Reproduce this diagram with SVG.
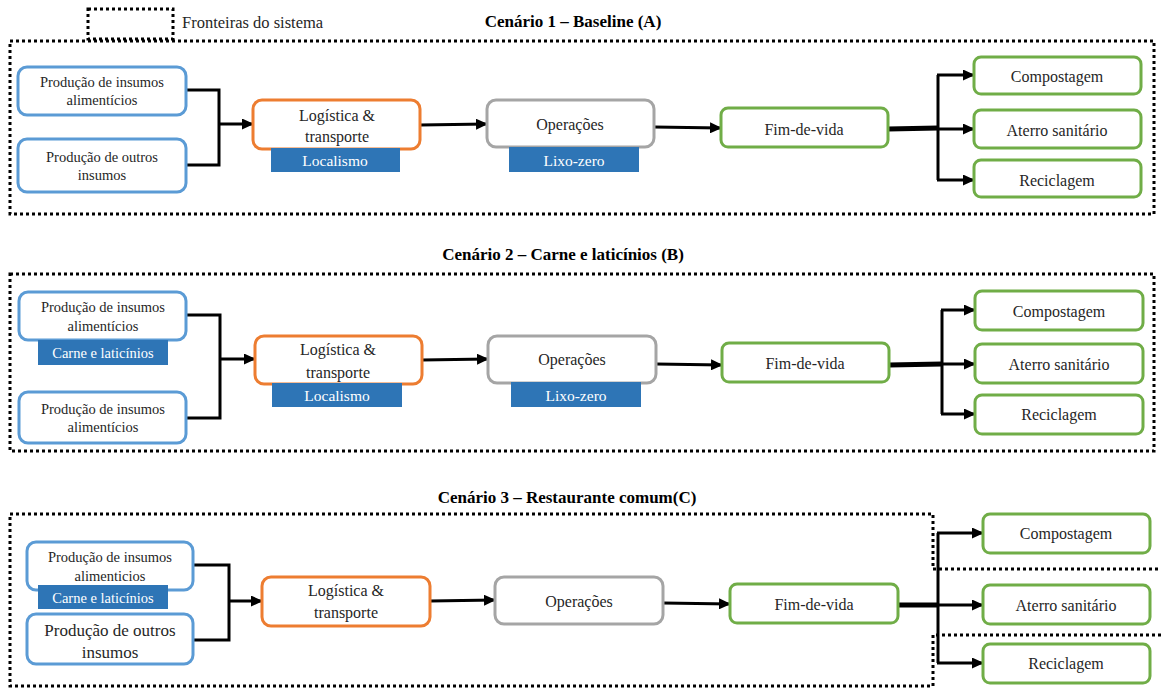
<svg xmlns="http://www.w3.org/2000/svg" width="1161" height="689" viewBox="0 0 1161 689">
<defs>
<marker id="ah" markerWidth="12" markerHeight="11" refX="11" refY="5.5" orient="auto" markerUnits="userSpaceOnUse"><path d="M0,0 L12,5.5 L0,11 z" fill="#000"/></marker>
<style>
.bnd{fill:none;stroke:#000;stroke-width:3;stroke-dasharray:3 3}
.box{fill:#fff;stroke-width:3}
.blue{stroke:#5B9BD5}
.orange{stroke:#ED7D31}
.gray{stroke:#A5A5A5}
.green{stroke:#70AD47}
.bar{fill:#2E75B6}
text{font-family:"Liberation Serif","Times New Roman",serif;fill:#262626;text-anchor:middle}
.t14{font-size:14.5px}
.t16{font-size:16px}
.t17{font-size:17px}
.bt{fill:#fff;font-size:15.5px}
.bt14{fill:#fff;font-size:14.5px}
.title{font-size:17px;font-weight:bold;fill:#000}
.leg{font-size:16.5px;text-anchor:start}
.c{fill:none;stroke:#000;stroke-width:3}
.ca{fill:none;stroke:#000;stroke-width:3;marker-end:url(#ah)}
.thick{fill:none;stroke:#000;stroke-width:5}
</style>
</defs>

<g id="legend">
<rect class="bnd" x="88" y="9" width="85" height="30"/>
<text class="leg" x="182" y="28">Fronteiras  do sistema</text>
</g>

<g id="titles">
<text class="title" x="573" y="27">Cenário 1 – Baseline (A)</text>
<text class="title" x="563" y="260">Cenário 2 – Carne e laticínios (B)</text>
<text class="title" x="567" y="503">Cenário 3 – Restaurante comum(C)</text>
</g>

<g id="boundaries">
<rect class="bnd" x="10" y="41" width="1144" height="173"/>
<rect class="bnd" x="10" y="274" width="1144" height="177"/>
<path class="bnd" d="M10,514 H933 V569 H1161 M1161,635 H933 V686 H10 V514"/>
</g>

<g id="connectors">
<!-- Scenario 1 -->
<path class="c" d="M186,90 H219 V165 H186"/>
<path class="ca" d="M219,124 H253"/>
<path class="ca" d="M420,125 L487,124"/>
<path class="ca" d="M654,127 L721,128"/>
<path class="thick" d="M888,129 L938,128"/>
<path class="c" d="M938,75 V180"/>
<path class="ca" d="M937,75 H974"/>
<path class="ca" d="M938,129 H974"/>
<path class="ca" d="M937,180 H974"/>
<!-- Scenario 2 -->
<path class="c" d="M186,315 H220 V418 H186"/>
<path class="ca" d="M220,359 H255"/>
<path class="ca" d="M422,360 L488,359"/>
<path class="ca" d="M656,364 L722,365"/>
<path class="thick" d="M889,365 L942,364"/>
<path class="c" d="M942,310 V414"/>
<path class="ca" d="M941,310 H975"/>
<path class="ca" d="M942,364 H975"/>
<path class="ca" d="M941,414 H975"/>
<!-- Scenario 3 -->
<path class="c" d="M193,565 H229 V640 H193"/>
<path class="ca" d="M229,601 H262"/>
<path class="ca" d="M430,601 L495,600"/>
<path class="ca" d="M663,603 L730,604"/>
<path class="thick" d="M898,605 L938,605"/>
<path class="c" d="M938,533 V663"/>
<path class="ca" d="M937,533 H983"/>
<path class="ca" d="M938,605 H983"/>
<path class="ca" d="M937,663 H983"/>
</g>

<!-- Scenario 1 nodes -->
<g id="s1-prod-alim">
<rect class="box blue" x="18" y="67" width="168" height="48" rx="9"/>
<text class="t14" x="102" y="87">Produção de insumos</text>
<text class="t14" x="102" y="105">alimentícios</text>
</g>
<g id="s1-prod-outros">
<rect class="box blue" x="18" y="139" width="168" height="53" rx="9"/>
<text class="t14" x="102" y="162">Produção de outros</text>
<text class="t14" x="102" y="180">insumos</text>
</g>
<g id="s1-logistica">
<rect class="box orange" x="253" y="100" width="167" height="49" rx="9"/>
<text class="t16" x="337" y="121">Logística  &amp;</text>
<text class="t16" x="337" y="142">transporte</text>
<rect class="bar" x="271" y="148" width="129" height="24"/>
<text class="bt" x="335" y="166">Localismo</text>
</g>
<g id="s1-operacoes">
<rect class="box gray" x="487" y="100" width="167" height="47" rx="9"/>
<text class="t16" x="570" y="130">Operações</text>
<rect class="bar" x="509" y="147" width="130" height="25"/>
<text class="bt" x="574" y="166">Lixo-zero</text>
</g>
<g id="s1-fim">
<rect class="box green" x="721" y="108" width="167" height="39" rx="7"/>
<text class="t16" x="804" y="135">Fim-de-vida</text>
</g>
<g id="s1-compostagem">
<rect class="box green" x="974" y="57" width="167" height="37" rx="7"/>
<text class="t16" x="1057" y="82">Compostagem</text>
</g>
<g id="s1-aterro">
<rect class="box green" x="974" y="110" width="167" height="38" rx="7"/>
<text class="t16" x="1057" y="136">Aterro  sanitário</text>
</g>
<g id="s1-reciclagem">
<rect class="box green" x="974" y="160" width="167" height="37" rx="7"/>
<text class="t16" x="1057" y="186">Reciclagem</text>
</g>

<!-- Scenario 2 nodes -->
<g id="s2-prod-alim1">
<rect class="box blue" x="19" y="292" width="167" height="48" rx="9"/>
<text class="t14" x="103" y="312">Produção de insumos</text>
<text class="t14" x="103" y="331">alimentícios</text>
<rect class="bar" x="38" y="340" width="130" height="25"/>
<text class="bt14" x="103" y="358">Carne e laticínios</text>
</g>
<g id="s2-prod-alim2">
<rect class="box blue" x="19" y="392" width="167" height="51" rx="9"/>
<text class="t14" x="103" y="414">Produção de insumos</text>
<text class="t14" x="103" y="432">alimentícios</text>
</g>
<g id="s2-logistica">
<rect class="box orange" x="255" y="336" width="167" height="48" rx="9"/>
<text class="t16" x="338" y="355">Logística  &amp;</text>
<text class="t16" x="338" y="378">transporte</text>
<rect class="bar" x="272" y="383" width="130" height="24"/>
<text class="bt" x="337" y="401">Localismo</text>
</g>
<g id="s2-operacoes">
<rect class="box gray" x="488" y="336" width="168" height="47" rx="9"/>
<text class="t16" x="572" y="365">Operações</text>
<rect class="bar" x="511" y="382" width="130" height="25"/>
<text class="bt" x="576" y="401">Lixo-zero</text>
</g>
<g id="s2-fim">
<rect class="box green" x="722" y="343" width="167" height="39" rx="7"/>
<text class="t16" x="805" y="369">Fim-de-vida</text>
</g>
<g id="s2-compostagem">
<rect class="box green" x="975" y="291" width="168" height="39" rx="7"/>
<text class="t16" x="1059" y="317">Compostagem</text>
</g>
<g id="s2-aterro">
<rect class="box green" x="975" y="344" width="168" height="39" rx="7"/>
<text class="t16" x="1059" y="370">Aterro  sanitário</text>
</g>
<g id="s2-reciclagem">
<rect class="box green" x="975" y="395" width="168" height="39" rx="7"/>
<text class="t16" x="1059" y="420">Reciclagem</text>
</g>

<!-- Scenario 3 nodes -->
<g id="s3-prod-alim">
<rect class="box blue" x="27" y="542" width="166" height="48" rx="9"/>
<text class="t14" x="110" y="562">Produção de insumos</text>
<text class="t14" x="110" y="581">alimenticios</text>
<rect class="bar" x="38" y="585" width="130" height="24"/>
<text class="bt14" x="103" y="603">Carne e laticínios</text>
</g>
<g id="s3-prod-outros">
<rect class="box blue" x="27" y="614" width="166" height="50" rx="9"/>
<text class="t17" x="110" y="636">Produção  de outros</text>
<text class="t17" x="110" y="658">insumos</text>
</g>
<g id="s3-logistica">
<rect class="box orange" x="262" y="577" width="168" height="49" rx="9"/>
<text class="t16" x="346" y="596">Logística  &amp;</text>
<text class="t16" x="346" y="618">transporte</text>
</g>
<g id="s3-operacoes">
<rect class="box gray" x="495" y="577" width="168" height="47" rx="9"/>
<text class="t16" x="579" y="607">Operações</text>
</g>
<g id="s3-fim">
<rect class="box green" x="730" y="584" width="168" height="39" rx="7"/>
<text class="t16" x="814" y="610">Fim-de-vida</text>
</g>
<g id="s3-compostagem">
<rect class="box green" x="983" y="514" width="167" height="39" rx="7"/>
<text class="t16" x="1066" y="539">Compostagem</text>
</g>
<g id="s3-aterro">
<rect class="box green" x="983" y="585" width="167" height="39" rx="7"/>
<text class="t16" x="1066" y="611">Aterro  sanitário</text>
</g>
<g id="s3-reciclagem">
<rect class="box green" x="983" y="644" width="167" height="39" rx="7"/>
<text class="t16" x="1066" y="669">Reciclagem</text>
</g>
</svg>
